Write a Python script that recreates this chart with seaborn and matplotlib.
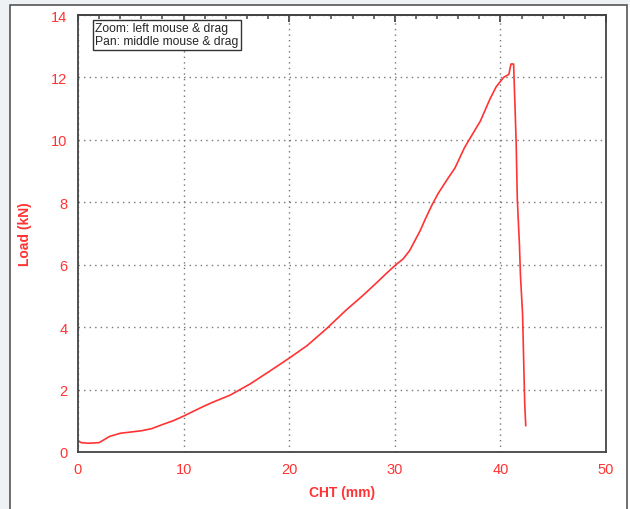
import matplotlib
matplotlib.use("Agg")
import matplotlib.pyplot as plt
from matplotlib.ticker import MultipleLocator
from matplotlib.patches import Rectangle
import seaborn as sns
import pandas as pd

cht = [0.0, 0.3, 1.0, 2.0, 3.0, 4.0, 5.0, 6.0, 7.0, 8.0, 9.0, 10.0, 10.9, 12.0,
       12.8, 14.4, 16.3, 18.2, 20.1, 21.7, 23.5, 25.4, 27.0, 28.3, 29.2, 30.0,
       30.8, 31.4, 31.9, 32.4, 32.9, 33.5, 34.1, 35.0, 35.7, 36.6, 37.3, 38.1,
       39.0, 39.6, 40.3, 40.8, 41.0, 41.25, 41.4, 41.5, 41.6, 41.8, 41.9, 42.1,
       42.2, 42.3, 42.4]
load = [0.36, 0.30, 0.28, 0.30, 0.50, 0.60, 0.64, 0.68, 0.75, 0.88, 1.00, 1.15, 1.30, 1.48,
        1.60, 1.82, 2.18, 2.60, 3.03, 3.41, 3.94, 4.55, 5.02, 5.43, 5.72, 5.97,
        6.19, 6.45, 6.77, 7.09, 7.47, 7.90, 8.28, 8.75, 9.10, 9.75, 10.15, 10.6,
        11.3, 11.7, 12.0, 12.1, 12.43, 12.43, 10.9, 9.8, 8.1, 6.67, 5.65, 4.42,
        2.98, 1.59, 0.84]

x_ticks = [0, 10, 20, 30, 40, 50]
y_ticks = [0, 2, 4, 6, 8, 10, 12, 14]

sns.set_style("white")
plt.rcParams['font.family'] = ['Liberation Sans', 'DejaVu Sans']

df = pd.DataFrame({"CHT": cht, "Load": load})
fig = plt.figure(figsize=(6.3, 5.1), dpi=100)
fig.patch.set_facecolor("white")
# outer panel frame
fig.patches.append(Rectangle((0, 0), 10/630, 1, transform=fig.transFigure,
                             facecolor="#eef2f5", edgecolor="none", zorder=0))
fig.patches.append(Rectangle((0, 1-6/510), 1, 6/510, transform=fig.transFigure,
                             facecolor="#eef2f5", edgecolor="none", zorder=0))
fig.patches.append(Rectangle((10/630, -0.01), 617/630, 1.01-6/510, transform=fig.transFigure,
                             facecolor="none", edgecolor="#555555", linewidth=1.2, zorder=1))

ax = fig.add_axes([78/630, 1-453/510, 528/630, 437/510])
sns.lineplot(data=df, x="CHT", y="Load", sort=False, estimator=None,
             color="#ff3333", linewidth=1.2, ax=ax)

ax.set_xlim(0, 50)
ax.set_ylim(0, 14)
ax.set_xticks(x_ticks)
ax.set_yticks(y_ticks)
ax.xaxis.set_minor_locator(MultipleLocator(2))
ax.yaxis.set_minor_locator(MultipleLocator(0.5))
ax.grid(True, which="major", linestyle=(0, (1, 3)), color="#777777", linewidth=1.0)
for s in ax.spines.values():
    s.set_color("#444444")
    s.set_linewidth(1.3)
ax.tick_params(which="major", direction="inout", length=8, width=1.3, color="#444444",
               labelcolor="#ff3333", labelsize=10.5)
ax.tick_params(which="minor", direction="inout", length=5, width=1.1, color="#444444")

top = ax.secondary_xaxis("top")
top.set_xticks(x_ticks)
top.xaxis.set_minor_locator(MultipleLocator(2))
top.tick_params(which="major", direction="in", length=5, width=1.3, color="#444444",
                labeltop=False)
top.tick_params(which="minor", direction="in", length=3, width=1.1, color="#444444")
top.spines["top"].set_color("#444444")
top.spines["top"].set_linewidth(1.3)

ax.set_xlabel("CHT (mm)", color="#ff3333", fontweight="bold", fontsize=10, labelpad=6)
ax.set_ylabel("Load (kN)", color="#ff3333", fontweight="bold", fontsize=10, labelpad=14)

ax.text(0.033, 0.983, "Zoom: left mouse & drag\nPan: middle mouse & drag",
        transform=ax.transAxes, ha="left", va="top", fontsize=8.7, linespacing=1.1,
        bbox=dict(boxstyle="square,pad=0.2", facecolor="white", edgecolor="#333333", linewidth=1))

fig.savefig("out.png", dpi=100)
